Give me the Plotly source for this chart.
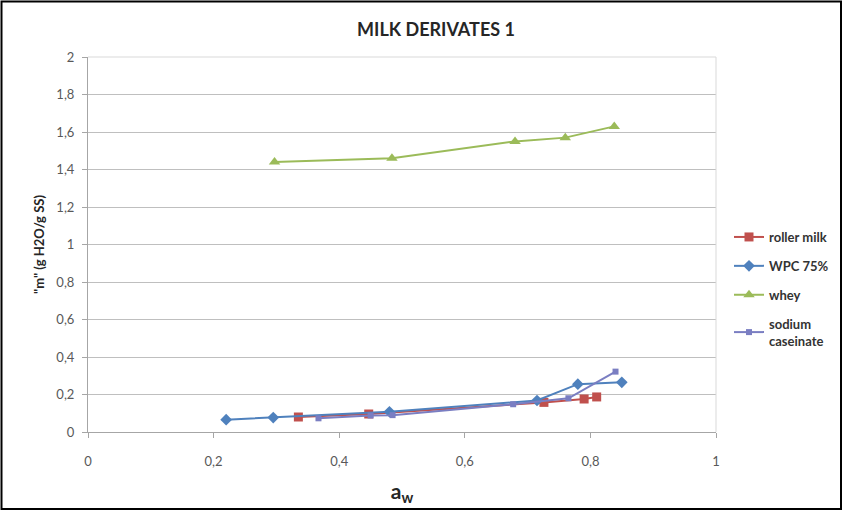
import plotly.graph_objects as go

# Data
roller_x = [0.335, 0.447, 0.726, 0.79, 0.81]
roller_y = [0.08, 0.096, 0.158, 0.176, 0.187]
wpc_x = [0.22, 0.295, 0.48, 0.715, 0.78, 0.85]
wpc_y = [0.066, 0.077, 0.108, 0.168, 0.255, 0.265]
whey_x = [0.297, 0.484, 0.68, 0.76, 0.838]
whey_y = [1.44, 1.46, 1.55, 1.57, 1.63]
cas_x = [0.367, 0.45, 0.485, 0.677, 0.765, 0.84]
cas_y = [0.073, 0.088, 0.09, 0.148, 0.18, 0.322]
x_ticks = [0, 0.2, 0.4, 0.6, 0.8, 1]
x_labels = ["0", "0,2", "0,4", "0,6", "0,8", "1"]
y_ticks = [0, 0.2, 0.4, 0.6, 0.8, 1, 1.2, 1.4, 1.6, 1.8, 2]
y_labels = ["0", "0,2", "0,4", "0,6", "0,8", "1", "1,2", "1,4", "1,6", "1,8", "2"]

FONT = "Lato"
fig = go.Figure()
fig.add_trace(go.Scatter(x=roller_x, y=roller_y, name="<b>roller milk</b>", mode="lines+markers",
                         legendgroup="a",
                         line=dict(color="#C0504D", width=2),
                         marker=dict(symbol="square", size=9, color="#C0504D")))
fig.add_trace(go.Scatter(x=wpc_x, y=wpc_y, name="<b>WPC 75%</b>", mode="lines+markers",
                         legendgroup="b",
                         line=dict(color="#4F81BD", width=2),
                         marker=dict(symbol="diamond", size=9, color="#4F81BD")))
fig.add_trace(go.Scatter(x=whey_x, y=whey_y, name="<b>whey</b>", mode="lines+markers",
                         legendgroup="c",
                         line=dict(color="#9BBB59", width=2),
                         marker=dict(symbol="triangle-up", size=10, color="#9BBB59")))
fig.add_trace(go.Scatter(x=cas_x, y=cas_y, name="<b>sodium<br>caseinate</b>", mode="lines+markers",
                         legendgroup="d",
                         line=dict(color="#7A7EC2", width=2),
                         marker=dict(symbol="square", size=6, color="#7A7EC2")))

W, H = 843, 511
L, R, T, B = 88, 127, 57, 79
pw, ph = W - L - R, H - T - B

def px2x(px):
    return (px - L) / pw

def py2y(py):
    return (H - B - py) / ph

fig.update_layout(
    width=W, height=H,
    margin=dict(l=L, r=R, t=T, b=B, autoexpand=False),
    paper_bgcolor="white", plot_bgcolor="white",
    font=dict(family=FONT, color="#404040"),
    title=dict(text="<b>MILK DERIVATES 1</b>", x=436 / W, xanchor="center",
               y=1 - 30 / H, yanchor="middle", font=dict(size=18, color="#262626", family=FONT)),
    showlegend=True,
    legend=dict(x=px2x(729), xanchor="left", y=py2y(222), yanchor="top",
                font=dict(size=13, color="#333333", family=FONT),
                tracegroupgap=9, itemwidth=30, bgcolor="rgba(0,0,0,0)"),
    xaxis=dict(range=[0, 1], tickvals=x_ticks, ticktext=x_labels, showgrid=False,
               showline=True, linecolor="#A6A6A6", linewidth=1, ticks="outside",
               tickcolor="#A6A6A6", ticklen=5, tickfont=dict(size=13, color="#595959"),
               ticklabelstandoff=12, zeroline=False,
               title=dict(text="<b>a<sub>w</sub></b>", font=dict(size=21, color="#262626"),
                          standoff=16)),
    yaxis=dict(range=[0, 2], tickvals=y_ticks, ticktext=y_labels, showgrid=True,
               gridcolor="#BFBFBF", gridwidth=1, showline=True, linecolor="#A6A6A6",
               linewidth=1, ticks="outside", tickcolor="#A6A6A6", ticklen=5,
               tickfont=dict(size=13, color="#595959"), ticklabelstandoff=5, zeroline=False,
               title=dict(text='<b>"m" (g H2O/g SS)</b>', font=dict(size=13, color="#262626"),
                          standoff=8)),
)
# right/top plot border line
fig.add_shape(type="line", xref="paper", yref="paper", x0=1, x1=1, y0=0, y1=1,
              line=dict(color="#D9D9D9", width=1))
fig.add_shape(type="line", xref="paper", yref="paper", x0=0, x1=1, y0=1, y1=1,
              line=dict(color="#D9D9D9", width=1))
# outer black frame
fig.add_shape(type="rect", xref="paper", yref="paper",
              x0=px2x(1.5), x1=px2x(841), y0=py2y(509), y1=py2y(1.5),
              line=dict(color="black", width=2), fillcolor="rgba(0,0,0,0)", layer="above")

fig.write_html("out.html")
